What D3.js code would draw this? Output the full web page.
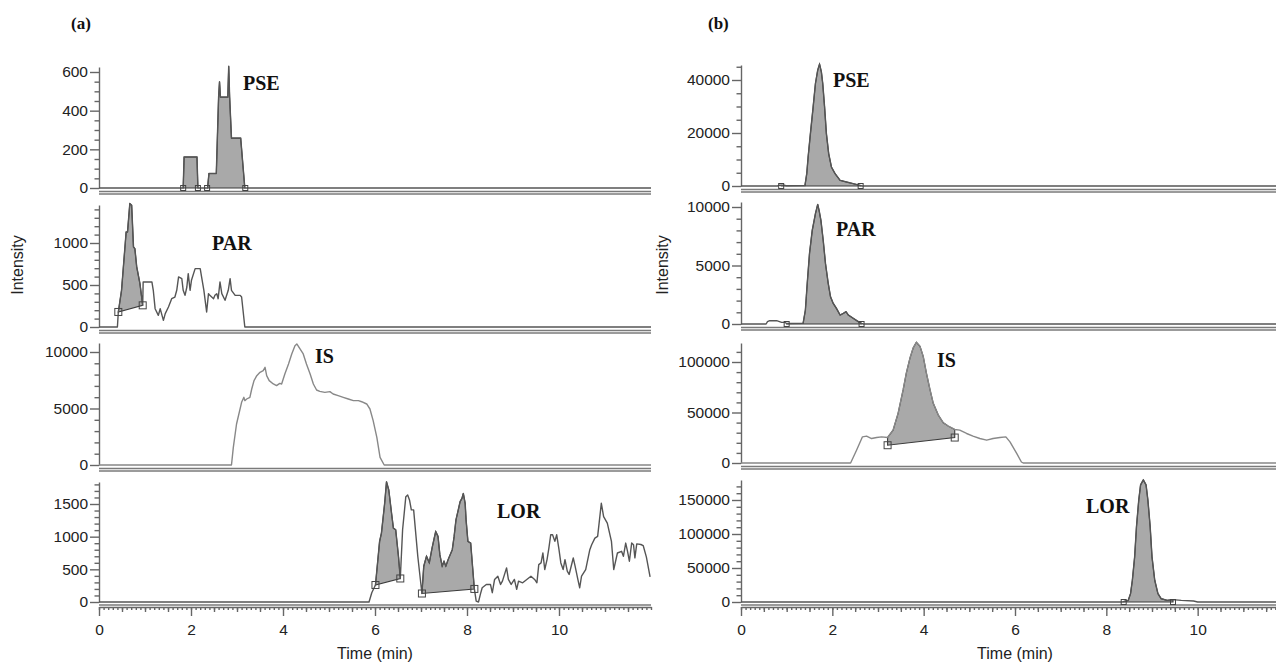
<!DOCTYPE html>
<html>
<head>
<meta charset="utf-8">
<script src="https://cdn.jsdelivr.net/npm/d3@7"></script>
<style>
body { margin: 0; background: #fff; }
svg { display: block; }
.tick text { font-family: "Liberation Sans", Arial, sans-serif; font-size: 15.5px; fill: #222; }
</style>
</head>
<body>
<svg id="chart" width="1276" height="663"></svg>
<script>
// ---- data: [time (min), intensity] ----

// (a) column
const pseA = [[0,0],[1.83,0],[1.85,160],[2.13,160],[2.15,0],[2.36,0],[2.39,75],[2.55,75],[2.6,470],[2.62,550],
    [2.64,470],[2.8,470],[2.82,630],[2.84,470],[2.88,258],[3.08,258],[3.17,0],[12,0]];
const pseA_peaks = [[1.83,2.15,0,0],[2.35,3.18,0,0]];
const pseA_ticks = [0,200,400,600];

const parA = [[0,0],[0.40,0],[0.42,179],[0.49,437],[0.59,1131],[0.62,1131],[0.67,1469],[0.71,1449],[0.75,953],
    [0.78,933],[0.82,715],[0.89,516],[0.95,258],[0.96,536],[1.04,536],[1.15,536],[1.18,437],[1.22,218],[1.29,139],
    [1.33,218],[1.40,79],[1.44,159],[1.51,238],[1.58,337],[1.65,357],[1.69,437],[1.73,596],[1.80,576],[1.83,437],
    [1.87,377],[1.91,476],[1.94,635],[1.98,437],[2.01,556],[2.09,695],[2.20,695],[2.23,596],[2.28,437],[2.34,179],
    [2.38,397],[2.41,377],[2.49,337],[2.52,377],[2.56,397],[2.59,337],[2.63,536],[2.67,397],[2.74,318],[2.81,437],
    [2.85,575],[2.88,437],[2.96,377],[3.07,377],[3.10,357],[3.17,0],[12,0]];
const parA_peaks = [[0.42,0.95,179,258]];
const parA_ticks = [0,500,1000];

const isA = [[0,0],[2.88,0],[2.92,1564],[2.99,3629],[3.10,5546],[3.15,5989],[3.17,5694],[3.21,5841],[3.28,5989],
    [3.32,6726],[3.37,7464],[3.43,7906],[3.50,8201],[3.57,8349],[3.61,8644],[3.645,7906],[3.70,7464],[3.79,7169],
    [3.86,7021],[3.93,7227],[3.97,7169],[4.04,8054],[4.12,8939],[4.19,9824],[4.26,10561],[4.30,10709],[4.37,10266],
    [4.44,9824],[4.51,8939],[4.59,8054],[4.66,7169],[4.73,6638],[4.80,6520],[4.91,6431],[5.02,6490],[5.09,6284],
    [5.20,6136],[5.31,5989],[5.42,5841],[5.53,5694],[5.64,5694],[5.71,5600],[5.82,5399],[5.89,4956],[5.96,3924],
    [6.04,2449],[6.11,679],[6.2,0],[12,0]];
const isA_peaks = [];
const isA_ticks = [0,5000,10000];

const lorA = [[0,0],[5.87,0],[5.93,142],[6.01,260],[6.10,928],[6.14,1055],[6.21,1511],[6.25,1840],[6.30,1714],
    [6.36,1359],[6.40,1131],[6.45,1105],[6.51,700],[6.55,360],[6.60,1105],[6.67,1612],[6.71,1638],[6.75,1562],
    [6.79,1410],[6.84,1410],[6.93,700],[7.02,130],[7.06,548],[7.12,700],[7.18,600],[7.24,826],[7.28,953],[7.32,1080],
    [7.37,1004],[7.41,725],[7.46,548],[7.50,624],[7.54,548],[7.59,649],[7.68,801],[7.72,1004],[7.76,1257],[7.81,1409],
    [7.85,1536],[7.89,1587],[7.92,1663],[7.96,1511],[7.98,1257],[8.02,928],[8.08,902],[8.16,200],[8.20,15],[8.25,0],
    [8.29,117],[8.33,218],[8.42,269],[8.51,269],[8.55,142],[8.60,345],[8.67,395],[8.73,269],[8.77,320],[8.86,522],
    [8.90,345],[8.96,269],[9.03,345],[9.08,193],[9.12,320],[9.21,294],[9.30,345],[9.39,395],[9.47,345],[9.52,294],
    [9.56,573],[9.61,598],[9.65,750],[9.69,497],[9.74,649],[9.78,826],[9.82,1029],[9.86,1029],[9.91,928],[9.95,1029],
    [10.0,801],[10.04,598],[10.09,497],[10.13,649],[10.18,472],[10.22,421],[10.31,674],[10.35,548],[10.41,345],
    [10.45,218],[10.49,395],[10.58,497],[10.67,801],[10.71,877],[10.78,978],[10.84,1004],[10.88,1257],[10.92,1511],
    [10.97,1308],[11.05,1207],[11.14,928],[11.19,497],[11.27,750],[11.36,776],[11.40,700],[11.45,902],[11.49,776],
    [11.53,624],[11.58,902],[11.62,877],[11.65,675],[11.69,889],[11.78,880],[11.83,864],[11.90,687],[11.98,384]];
const lorA_peaks = [[6.01,6.55,260,360],[7.02,8.16,130,200]];
const lorA_ticks = [0,500,1000,1500];

// (b) column
const pseB = [[0,0],[0.80,0],[0.84,300],[0.95,250],[1.00,100],[1.40,150],[1.44,4660],[1.47,10960],[1.52,19780],
    [1.58,29860],[1.63,38680],[1.68,43720],[1.72,46000],[1.76,43090],[1.79,38680],[1.83,29860],[1.87,19780],
    [1.92,12220],[1.98,7180],[2.06,4660],[2.17,2140],[2.31,1510],[2.46,880],[2.60,250],[2.65,0],[12,0]];
const pseB_peaks = [[0.88,2.62,0,0]];
const pseB_ticks = [0,20000,40000];

const parB = [[0,0],[0.55,0],[0.58,200],[0.63,284],[0.78,284],[0.89,142],[0.96,142],[1.00,40],[1.36,60],[1.41,1193],
    [1.45,3465],[1.50,6021],[1.56,8009],[1.63,9429],[1.68,10224],[1.71,9713],[1.75,8861],[1.80,7157],[1.85,5169],
    [1.91,3465],[1.96,2329],[2.02,1761],[2.09,1335],[2.17,767],[2.24,909],[2.30,1051],[2.35,767],[2.46,483],
    [2.57,199],[2.64,57],[2.68,0],[12,0]];
const parB_peaks = [[1.0,2.64,0,0]];
const parB_ticks = [0,5000,10000];

const isB = [[0,0],[2.40,0],[2.53,12600],[2.66,25900],[2.75,26560],[2.86,24240],[2.97,25230],[3.08,25900],
    [3.21,25230],[3.33,32540],[3.44,49140],[3.55,72380],[3.62,88980],[3.70,103900],[3.77,113900],[3.84,119500],
    [3.92,115500],[3.99,105600],[4.06,88980],[4.14,72380],[4.21,59100],[4.32,47480],[4.43,39840],[4.54,36520],
    [4.68,33200],[4.79,32540],[4.94,29220],[5.08,26560],[5.23,24240],[5.38,22580],[5.52,24240],[5.67,25230],
    [5.80,25900],[5.89,20920],[6.04,9300],[6.14,1000],[6.18,0],[12,0]];
const isB_peaks = [[3.21,4.68,17600,25200]];
const isB_ticks = [0,50000,100000];

const lorB = [[0,0],[8.35,0],[8.48,2460],[8.53,12300],[8.57,32000],[8.62,66400],[8.66,110700],[8.71,150000],
    [8.75,172200],[8.81,179600],[8.87,172200],[8.91,150000],[8.96,110700],[9.00,66400],[9.06,32000],[9.13,12300],
    [9.20,4920],[9.33,2460],[9.46,3440],[9.64,2460],[9.91,1480],[10.0,0],[12,0]];
const lorB_peaks = [[8.38,9.46,0,0]];
const lorB_ticks = [0,50000,100000,150000];

const timeTicks = [0,2,4,6,8,10];

// ---- layout ----

const svg = d3.select("#chart");

const columns = [
    {x0: 99, x1: 651, tag: "(a)", tagX: 71, intensityX: 23},
    {x0: 741, x1: 1289, tag: "(b)", tagX: 708, intensityX: 668}
];
columns.forEach(c => c.x = d3.scaleLinear().domain([0, 12]).range([c.x0, c.x1]));

// zeroY / refY / topY: pixel rows of 0, of the top labelled tick, and of the axis end
const panels = [
    {col: 0, name: "PSE", data: pseA, peaks: pseA_peaks, ticks: pseA_ticks, minor: 50, zeroY: 188, refY: 72, topY: 67, lx: 243, ly: 90, ms: 5},
    {col: 0, name: "PAR", data: parA, peaks: parA_peaks, ticks: parA_ticks, minor: 100, zeroY: 327, refY: 243, topY: 205, lx: 212, ly: 250, ms: 7},
    {col: 0, name: "IS", data: isA, peaks: isA_peaks, ticks: isA_ticks, minor: 1000, zeroY: 465, refY: 352, topY: 343, lx: 315, ly: 363, ms: 7, light: true},
    {col: 0, name: "LOR", data: lorA, peaks: lorA_peaks, ticks: lorA_ticks, minor: 100, zeroY: 602, refY: 504, topY: 482, lx: 497, ly: 518, ms: 7, bottom: true},
    {col: 1, name: "PSE", data: pseB, peaks: pseB_peaks, ticks: pseB_ticks, minor: 5000, zeroY: 186, refY: 80, topY: 65, lx: 833, ly: 87, ms: 5},
    {col: 1, name: "PAR", data: parB, peaks: parB_peaks, ticks: parB_ticks, minor: 1000, zeroY: 324, refY: 207, topY: 202, lx: 836, ly: 236, ms: 5},
    {col: 1, name: "IS", data: isB, peaks: isB_peaks, ticks: isB_ticks, minor: 10000, zeroY: 463, refY: 362, topY: 343, lx: 937, ly: 367, ms: 7, light: true},
    {col: 1, name: "LOR", data: lorB, peaks: lorB_peaks, ticks: lorB_ticks, minor: 10000, zeroY: 602, refY: 500, topY: 480, lx: 1086, ly: 513, ms: 5, bottom: true}
];

const axisColor = "#666";

function styleAxis(g) {
    g.selectAll("path, line").attr("stroke", axisColor).attr("stroke-width", 1.4);
}

// linear read of the trace at time t (used to close the filled peak at its limits)
const bisect = d3.bisector(d => d[0]).left;
function valueAt(data, t) {
    const i = Math.max(1, Math.min(data.length - 1, bisect(data, t)));
    const a = data[i - 1], b = data[i];
    const f = (t - a[0]) / (b[0] - a[0]);
    return a[1] + f * (b[1] - a[1]);
}

function drawPanel(p) {
    const col = columns[p.col];
    const x = col.x;
    const refVal = p.ticks[p.ticks.length - 1];
    const yMax = refVal * (p.zeroY - p.topY) / (p.zeroY - p.refY);
    const y = d3.scaleLinear().domain([0, yMax]).range([p.zeroY, p.topY]);

    const g = svg.append("g").attr("class", "panel");

    // baseline double rule
    const rules = p.bottom ? [3] : [3.5, 6];
    rules.forEach(dy => {
        g.append("line")
            .attr("x1", col.x0).attr("x2", col.x1)
            .attr("y1", p.zeroY + dy).attr("y2", p.zeroY + dy)
            .attr("stroke", "#7a7a7a").attr("stroke-width", 1.3);
    });

    // y axis, minor then major ticks
    const minors = d3.range(0, yMax, p.minor).filter(v => !p.ticks.includes(v));
    g.append("g")
        .attr("transform", "translate(" + col.x0 + ",0)")
        .call(d3.axisLeft(y).tickValues(minors).tickSize(4.5).tickFormat(""))
        .call(a => a.select(".domain").remove())
        .call(styleAxis);

    g.append("g")
        .attr("transform", "translate(" + col.x0 + ",0)")
        .call(d3.axisLeft(y).tickValues(p.ticks).tickSize(9).tickSizeOuter(0).tickPadding(2).tickFormat(d3.format("d")))
        .call(styleAxis);

    // filled, integrated peaks
    p.peaks.forEach(pk => {
        const [t0, t1, b0, b1] = pk;
        const pts = [[t0, valueAt(p.data, t0)]]
            .concat(p.data.filter(d => d[0] > t0 && d[0] < t1))
            .concat([[t1, valueAt(p.data, t1)], [t1, b1], [t0, b0]]);
        g.append("path")
            .datum(pts)
            .attr("d", d3.line().x(d => x(d[0])).y(d => y(d[1])).curve(d3.curveLinearClosed))
            .attr("fill", "#a9a9a9")
            .attr("stroke", "#3a3a3a")
            .attr("stroke-width", 1.1);
    });

    // trace
    g.append("path")
        .datum(p.data)
        .attr("d", d3.line().x(d => x(d[0])).y(d => y(d[1])))
        .attr("fill", "none")
        .attr("stroke", p.light ? "#888" : "#555")
        .attr("stroke-width", 1.4)
        .attr("stroke-linejoin", "round");

    // peak limit markers
    p.peaks.forEach(pk => {
        [[pk[0], pk[2]], [pk[1], pk[3]]].forEach(m => {
            g.append("rect")
                .attr("x", x(m[0]) - p.ms / 2).attr("y", y(m[1]) - p.ms / 2)
                .attr("width", p.ms).attr("height", p.ms)
                .attr("fill", "none").attr("stroke", "#444").attr("stroke-width", 1);
        });
    });

    // time axis on the bottom row
    if (p.bottom) {
        const ax = g.append("g").attr("transform", "translate(0," + (p.zeroY + 5) + ")");
        ax.append("g")
            .call(d3.axisBottom(x).tickValues(d3.range(0, 12.01, 0.1).map(v => +v.toFixed(1))).tickSize(3).tickFormat(""))
            .call(a => a.select(".domain").remove())
            .call(styleAxis);
        ax.append("g")
            .call(d3.axisBottom(x).tickValues(d3.range(0.5, 12.01, 1)).tickSize(5).tickFormat(""))
            .call(a => a.select(".domain").remove())
            .call(styleAxis);
        ax.append("g")
            .call(d3.axisBottom(x).tickValues(d3.range(1, 12, 2)).tickSize(5).tickFormat(""))
            .call(a => a.select(".domain").remove())
            .call(styleAxis);
        ax.append("g")
            .call(d3.axisBottom(x).tickValues(timeTicks).tickSize(9).tickSizeOuter(0).tickPadding(8))
            .call(styleAxis);

        svg.append("text")
            .attr("x", (col.x0 + col.x1) / 2)
            .attr("y", 659)
            .attr("text-anchor", "middle")
            .attr("font-family", "Liberation Sans, Arial, sans-serif")
            .attr("font-size", 16)
            .attr("fill", "#222")
            .text("Time (min)");
    }

    // compound label
    svg.append("text")
        .attr("x", p.lx).attr("y", p.ly)
        .attr("font-family", "Liberation Serif, Times New Roman, serif")
        .attr("font-weight", "bold")
        .attr("font-size", 20)
        .attr("fill", "#111")
        .text(p.name);
}

panels.forEach(drawPanel);

columns.forEach(c => {
    svg.append("text")
        .attr("x", c.tagX).attr("y", 29)
        .attr("font-family", "Liberation Serif, Times New Roman, serif")
        .attr("font-weight", "bold")
        .attr("font-size", 17)
        .attr("fill", "#111")
        .text(c.tag);

    svg.append("text")
        .attr("transform", "translate(" + c.intensityX + ",265) rotate(-90)")
        .attr("text-anchor", "middle")
        .attr("font-family", "Liberation Sans, Arial, sans-serif")
        .attr("font-size", 16)
        .attr("fill", "#222")
        .text("Intensity");
});
</script>
</body>
</html>
